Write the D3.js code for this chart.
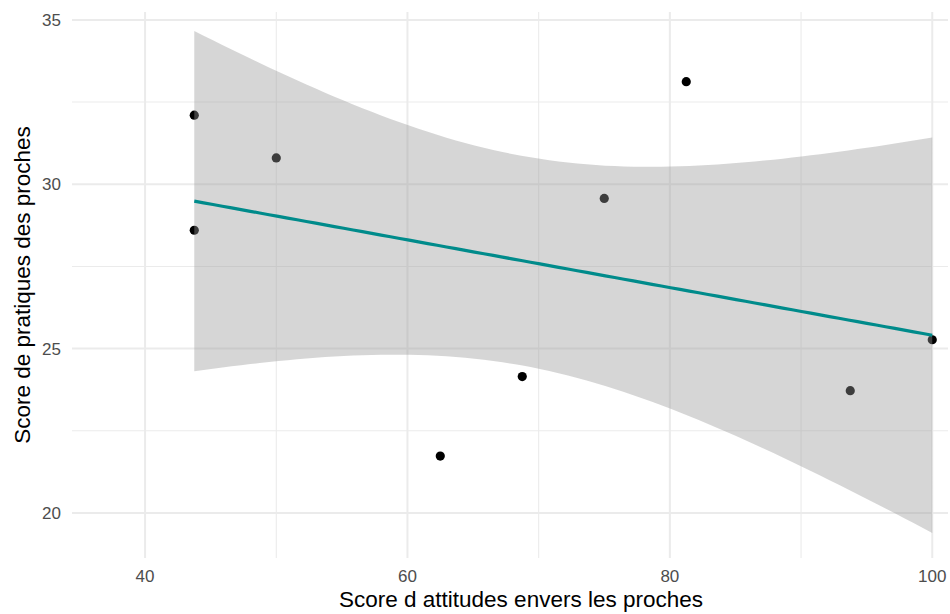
<!DOCTYPE html>
<html>
<head>
<meta charset="utf-8">
<script src="https://cdn.jsdelivr.net/npm/d3@7"></script>
<style>
  body { margin: 0; background: #fff; }
  text { font-family: "Liberation Sans", Arial, sans-serif; }
</style>
</head>
<body>
<div id="chart"></div>
<script>
// scores
var attitudes = [43.75, 43.75, 50, 62.5, 68.75, 75, 81.25, 93.75, 100];
var pratiques = [32.1, 28.6, 30.8, 21.73, 24.15, 29.57, 33.12, 23.72, 25.27];

var xTicks = [40, 60, 80, 100], xMinor = [50, 70, 90];
var yTicks = [20, 25, 30, 35], yMinor = [22.5, 27.5, 32.5];

var width = 950, height = 614;
var margin = {top: 12, right: 2, bottom: 56, left: 72};

var svg = d3.select("#chart")
    .append("svg")
    .attr("width", width)
    .attr("height", height);

var x = d3.scaleLinear().domain([34.43, 101.2]).range([margin.left, width - margin.right]);
var y = d3.scaleLinear().domain([18.63, 35.24]).range([height - margin.bottom, margin.top]);

// grid
var grid = svg.append("g");
grid.selectAll(".xm").data(xMinor).enter().append("line")
    .attr("x1", x).attr("x2", x)
    .attr("y1", y.range()[0]).attr("y2", y.range()[1])
    .style("stroke", "#ebebeb").style("stroke-width", 1.1);
grid.selectAll(".ym").data(yMinor).enter().append("line")
    .attr("y1", y).attr("y2", y)
    .attr("x1", x.range()[0]).attr("x2", x.range()[1])
    .style("stroke", "#ebebeb").style("stroke-width", 1.1);
grid.selectAll(".xM").data(xTicks).enter().append("line")
    .attr("x1", x).attr("x2", x)
    .attr("y1", y.range()[0]).attr("y2", y.range()[1])
    .style("stroke", "#ebebeb").style("stroke-width", 2);
grid.selectAll(".yM").data(yTicks).enter().append("line")
    .attr("y1", y).attr("y2", y)
    .attr("x1", x.range()[0]).attr("x2", x.range()[1])
    .style("stroke", "#ebebeb").style("stroke-width", 2);

// points (drawn under the ribbon like geom_point before geom_smooth)
svg.append("g").selectAll("circle")
    .data(attitudes)
    .enter()
    .append("circle")
    .attr("cx", function(d) { return x(d); })
    .attr("cy", function(d, i) { return y(pratiques[i]); })
    .attr("r", 4.6)
    .style("fill", "#000");

// linear fit + 95% band, as lm does
var n = attitudes.length;
var mx = d3.mean(attitudes), my = d3.mean(pratiques);
var sxx = d3.sum(attitudes, function(d) { return (d - mx) * (d - mx); });
var sxy = d3.sum(attitudes, function(d, i) { return (d - mx) * (pratiques[i] - my); });
var b = sxy / sxx, a = my - b * mx;
var sse = d3.sum(attitudes, function(d, i) { var r = pratiques[i] - (a + b * d); return r * r; });
var s = Math.sqrt(sse / (n - 2));
var t = 2.364624; // qt(0.975, 7)

var xmin = d3.min(attitudes), xmax = d3.max(attitudes);
var fit = d3.range(80).map(function(k) {
  var xv = xmin + (xmax - xmin) * k / 79;
  var yv = a + b * xv;
  var se = s * Math.sqrt(1 / n + (xv - mx) * (xv - mx) / sxx);
  return {x: xv, y: yv, lo: yv - t * se, hi: yv + t * se};
});

svg.append("path")
    .datum(fit)
    .attr("d", d3.area()
        .x(function(d) { return x(d.x); })
        .y0(function(d) { return y(d.lo); })
        .y1(function(d) { return y(d.hi); }))
    .style("fill", "#999999")
    .style("fill-opacity", 0.4);

svg.append("path")
    .datum(fit)
    .attr("d", d3.line()
        .x(function(d) { return x(d.x); })
        .y(function(d) { return y(d.y); }))
    .style("fill", "none")
    .style("stroke", "#008b8b")
    .style("stroke-width", 3.2);

// tick labels
svg.append("g").selectAll("text")
    .data(xTicks)
    .enter()
    .append("text")
    .attr("x", x)
    .attr("y", 582)
    .attr("text-anchor", "middle")
    .style("font-size", "17px")
    .style("fill", "#4d4d4d")
    .text(function(d) { return d; });

svg.append("g").selectAll("text")
    .data(yTicks)
    .enter()
    .append("text")
    .attr("x", 61)
    .attr("y", function(d) { return y(d) + 6; })
    .attr("text-anchor", "end")
    .style("font-size", "17px")
    .style("fill", "#4d4d4d")
    .text(function(d) { return d; });

// axis titles
svg.append("text")
    .attr("x", 521)
    .attr("y", 607)
    .attr("text-anchor", "middle")
    .style("font-size", "22.5px")
    .style("fill", "#000")
    .text("Score d attitudes envers les proches");

svg.append("text")
    .attr("transform", "translate(30,285) rotate(-90)")
    .attr("text-anchor", "middle")
    .style("font-size", "22.5px")
    .style("fill", "#000")
    .text("Score de pratiques des proches");
</script>
</body>
</html>
